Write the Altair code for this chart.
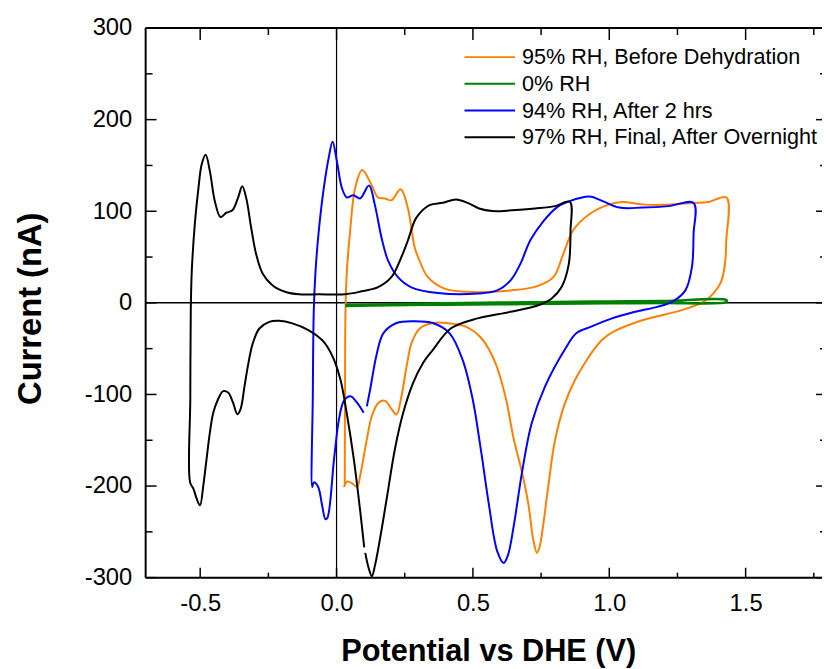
import altair as alt
import pandas as pd

SERIES = ["95% RH, Before Dehydration", "0% RH", "94% RH, After 2 hrs",
          "97% RH, Final, After Overnight"]
COLORS = ["#FF8000", "#008000", "#0000FF", "#000000"]

# 95% RH, Before Dehydration (potential V, current nA), in sweep order
orange_v = [0.030, 0.031, 0.033, 0.038, 0.050, 0.068, 0.094, 0.128, 0.152, 0.177,
            0.201, 0.235, 0.261, 0.286, 0.299, 0.335, 0.396, 0.480, 0.638, 0.734,
            0.795, 0.831, 0.867, 0.928, 1.000, 1.049, 1.121, 1.194, 1.303, 1.363,
            1.430, 1.429, 1.424, 1.410, 1.381, 1.345, 1.266, 1.121, 1.019, 0.975,
            0.946, 0.910, 0.873, 0.837, 0.801, 0.777, 0.758, 0.745, 0.735, 0.722,
            0.704, 0.680, 0.650, 0.619, 0.583, 0.535, 0.474, 0.402, 0.353, 0.305,
            0.275, 0.257, 0.238, 0.220, 0.202, 0.178, 0.154, 0.130, 0.111, 0.087,
            0.075, 0.057, 0.039, 0.027]
orange_i = [-200, -100, -5, 35, 79, 125, 145, 129, 115, 114,
            112, 124, 104, 61, 50, 28, 15.5, 12, 13.6, 18,
            28, 53, 79, 97, 107.5, 110, 107.5, 107, 109, 110,
            115, 68, 42, 23, 10, 1, -8, -19, -31, -40,
            -50, -66, -85, -110, -150, -199, -242, -266, -273, -260,
            -221, -185, -149, -102, -66, -40, -26, -22, -22, -28,
            -44, -69, -102, -122, -116, -107, -109, -123, -149, -188,
            -201, -197, -195, -201]

# 0% RH
green_v = [0.032, 0.2, 0.4, 0.6, 0.8, 1.0, 1.2, 1.43, 1.43, 1.2, 1.0, 0.8, 0.6, 0.4, 0.2, 0.032]
green_i = [-2.5, -1.5, -0.5, 0.3, 1.0, 1.5, 2.0, 3.0, 1.0, 0.0, -0.5, -1.0, -1.5, -2.0, -2.5, -3.5]

# 94% RH, After 2 hrs
blue_v = [0.0995, 0.075, 0.051, 0.027, 0.009, -0.009, -0.034, -0.041, -0.053, -0.0675,
          -0.0835, -0.089, -0.087, -0.0835, -0.077, -0.065, -0.047, -0.029, -0.0145, 0.0015,
          0.020, 0.038, 0.062, 0.086, 0.119, 0.140, 0.165, 0.189, 0.225, 0.274,
          0.372, 0.517, 0.589, 0.638, 0.674, 0.710, 0.758, 0.807, 0.855, 0.928,
          0.976, 1.037, 1.121, 1.218, 1.309, 1.309, 1.303, 1.279, 1.230, 1.176,
          1.121, 1.091, 1.000, 0.934, 0.880, 0.837, 0.765, 0.716, 0.680, 0.650,
          0.629, 0.613, 0.589, 0.559, 0.529, 0.499, 0.462, 0.414, 0.353, 0.281,
          0.220, 0.172, 0.148, 0.123, 0.111]
blue_i = [-120, -109, -102, -107, -127, -170, -235, -236, -221, -201,
          -196, -201, -100, -8, 35, 79, 125, 158, 176, 154,
          125, 115, 117.5, 114, 128, 107.5, 71, 46, 28, 17,
          10.7, 10.1, 13.6, 24.5, 42.5, 68, 89, 104, 111, 116,
          111, 104, 104, 105.6, 109, 75, 39, 13.6, 1, -4.4,
          -8, -10, -18, -26, -33, -51, -91, -131, -185, -243,
          -275, -284, -271, -221, -160, -105, -62, -33, -22, -20,
          -22, -33, -55, -95, -113]

# 97% RH, Final, After Overnight
black_v = [0.1015, 0.087, 0.063, 0.039, 0.0145, -0.0094, -0.0337, -0.053, -0.1016, -0.1618,
           -0.2104, -0.2467, -0.283, -0.307, -0.3251, -0.3374, -0.352, -0.364, -0.3795, -0.3977,
           -0.4158, -0.434, -0.4521, -0.4644, -0.4764, -0.4884, -0.5007, -0.5127, -0.5247, -0.537,
           -0.5363, -0.5345, -0.5308, -0.5189, -0.5065, -0.4946, -0.480, -0.4644, -0.4463, -0.4256,
           -0.4038, -0.3821, -0.3614, -0.3458, -0.3313, -0.3131, -0.295, -0.2707, -0.2344, -0.1861,
           -0.1379, -0.0653, 0.0316, 0.0922, 0.1524, 0.201, 0.2373, 0.2612, 0.2928, 0.341,
           0.3897, 0.438, 0.4804, 0.5225, 0.5711, 0.6437, 0.7282, 0.8008, 0.8552, 0.8578,
           0.8516, 0.8251, 0.7888, 0.7402, 0.6375, 0.5167, 0.4198, 0.3534, 0.3171, 0.2808,
           0.2446, 0.2141, 0.184, 0.1597, 0.1415, 0.1295, 0.1176, 0.1052]
black_i = [-267, -228, -170, -123.5, -84, -62, -48, -40.5, -30, -22.4,
           -19.6, -20.7, -28, -44, -69, -91, -116, -121.6, -109, -98,
           -96.4, -105, -120, -141.5, -170, -199, -221, -214, -203, -196,
           -105, -8, 35, 89, 125, 151, 161.6, 143.5, 111, 93.7,
           98.4, 101, 114.6, 127.3, 114.6, 82, 53.4, 31.7, 19, 11.8,
           9.3, 9.3, 9.3, 12.6, 17.2, 28, 49.7, 67.8, 93, 106.7,
           109.2, 112.9, 109.2, 103, 100.2, 101, 103, 105.6, 110.3, 78.6,
           42.5, 17.2, 4.7, -2.6, -9.8, -17, -27.8, -51.3, -65.7, -87.3,
           -119.8, -159.5, -213.6, -257, -285.8, -298.4, -289.4, -273]

X_MAJOR = [-0.5, 0.0, 0.5, 1.0, 1.5]
X_MINOR = [-0.25, 0.25, 0.75, 1.25, 1.75]
Y_MAJOR = [-300, -200, -100, 0, 100, 200, 300]
Y_MINOR = [-250, -150, -50, 50, 150, 250]

rows = []
for name, vs, cs in zip(SERIES, [orange_v, green_v, blue_v, black_v],
                        [orange_i, green_i, blue_i, black_i]):
    for k, (v, c) in enumerate(zip(vs, cs)):
        rows.append({"series": name, "k": k, "v": v, "i": c})
df = pd.DataFrame(rows)

W, H = 683, 555
FONT = "Liberation Sans"
xs = alt.Scale(domain=[-0.7, 1.78], nice=False, zero=False)
ys = alt.Scale(domain=[-300, 300], nice=False, zero=False)

AX = alt.Axis(
    values=X_MAJOR, title="Potential vs DHE (V)",
    labelExpr="replace(format(datum.value, '.1f'), '\u2212', '-')",
    labelBaseline="alphabetic", labelPadding=33,
    titleFontSize=31, titleX=346, titleY=84, titleBaseline="alphabetic",
    titleAlign="center")
AY = alt.Axis(
    values=Y_MAJOR, title="Current (nA)",
    labelExpr="replace(format(datum.value, 'd'), '\u2212', '-')",
    labelBaseline="middle", labelPadding=14,
    titleFontSize=33, titleX=-106, titleY=283, titleBaseline="alphabetic",
    titleAlign="center", titleAngle=270)

XE = alt.X("v:Q", scale=xs, axis=AX)
YE = alt.Y("i:Q", scale=ys, axis=AY)

lines = alt.Chart(df).mark_line(interpolate="catmull-rom").encode(
    x=XE,
    y=YE,
    color=alt.Color("series:N", scale=alt.Scale(domain=SERIES, range=COLORS),
                    legend=alt.Legend(title=None, orient="none", legendX=321, legendY=16,
                                      symbolType="stroke", symbolSize=2601,
                                      symbolStrokeWidth=2, labelFontSize=21.8,
                                      labelFont=FONT, labelColor="black",
                                      labelOffset=6, rowPadding=0, clipHeight=26.7,
                                      padding=0, labelLimit=400)),
    strokeWidth=alt.condition(alt.datum.series == "0% RH", alt.value(2.6), alt.value(2)),
    order="k:Q",
)

zero_v = alt.Chart(pd.DataFrame({"v": [0.0]})).mark_rule(color="black", strokeWidth=1.2).encode(x=XE)
zero_h = alt.Chart(pd.DataFrame({"i": [0.0]})).mark_rule(color="black", strokeWidth=1.5).encode(y=YE)

dxM = pd.DataFrame({"v": X_MAJOR})
dxm = pd.DataFrame({"v": X_MINOR})
dyM = pd.DataFrame({"i": Y_MAJOR})
dym = pd.DataFrame({"i": Y_MINOR})

def xtick(d, y0, y1):
    return alt.Chart(d).mark_rule(color="black", strokeWidth=1.5).encode(
        x=XE, y=alt.value(y0), y2=alt.value(y1))

def ytick(d, x0, x1):
    return alt.Chart(d).mark_rule(color="black", strokeWidth=1.5).encode(
        y=YE, x=alt.value(x0), x2=alt.value(x1))

ticks = [
    xtick(dxM, H, H - 10), xtick(dxm, H, H - 5),
    xtick(dxM, 0, 12), xtick(dxm, 0, 7),
    ytick(dyM, 0, 11), ytick(dym, 0, 7),
    ytick(dyM, W - 6, W), ytick(dym, W - 2, W),
]

frame_df = pd.DataFrame({"a": [0]})
top_line = alt.Chart(frame_df).mark_rule(color="black", strokeWidth=2).encode(
    x=alt.value(0), x2=alt.value(W), y=alt.value(0))
bottom_line = alt.Chart(frame_df).mark_rule(color="black", strokeWidth=2).encode(
    x=alt.value(0), x2=alt.value(W), y=alt.value(H))
left_line = alt.Chart(frame_df).mark_rule(color="black", strokeWidth=2).encode(
    x=alt.value(0), y=alt.value(0), y2=alt.value(H))

chart = alt.layer(
    zero_v, zero_h, *ticks, top_line, bottom_line, left_line, lines
).properties(
    width=W, height=H,
    padding={"left": 139, "top": 17, "right": 0, "bottom": 89},
    autosize=alt.AutoSizeParams(type="none"),
    background="white",
).configure_axis(
    labelFont=FONT, labelFontSize=24, labelColor="black",
    titleFont=FONT, titleFontWeight="bold", titleColor="black",
    ticks=False, domain=False, grid=False,
).configure_view(stroke="transparent")

chart.save("out.html", embed_options={"renderer": "svg", "actions": False})
